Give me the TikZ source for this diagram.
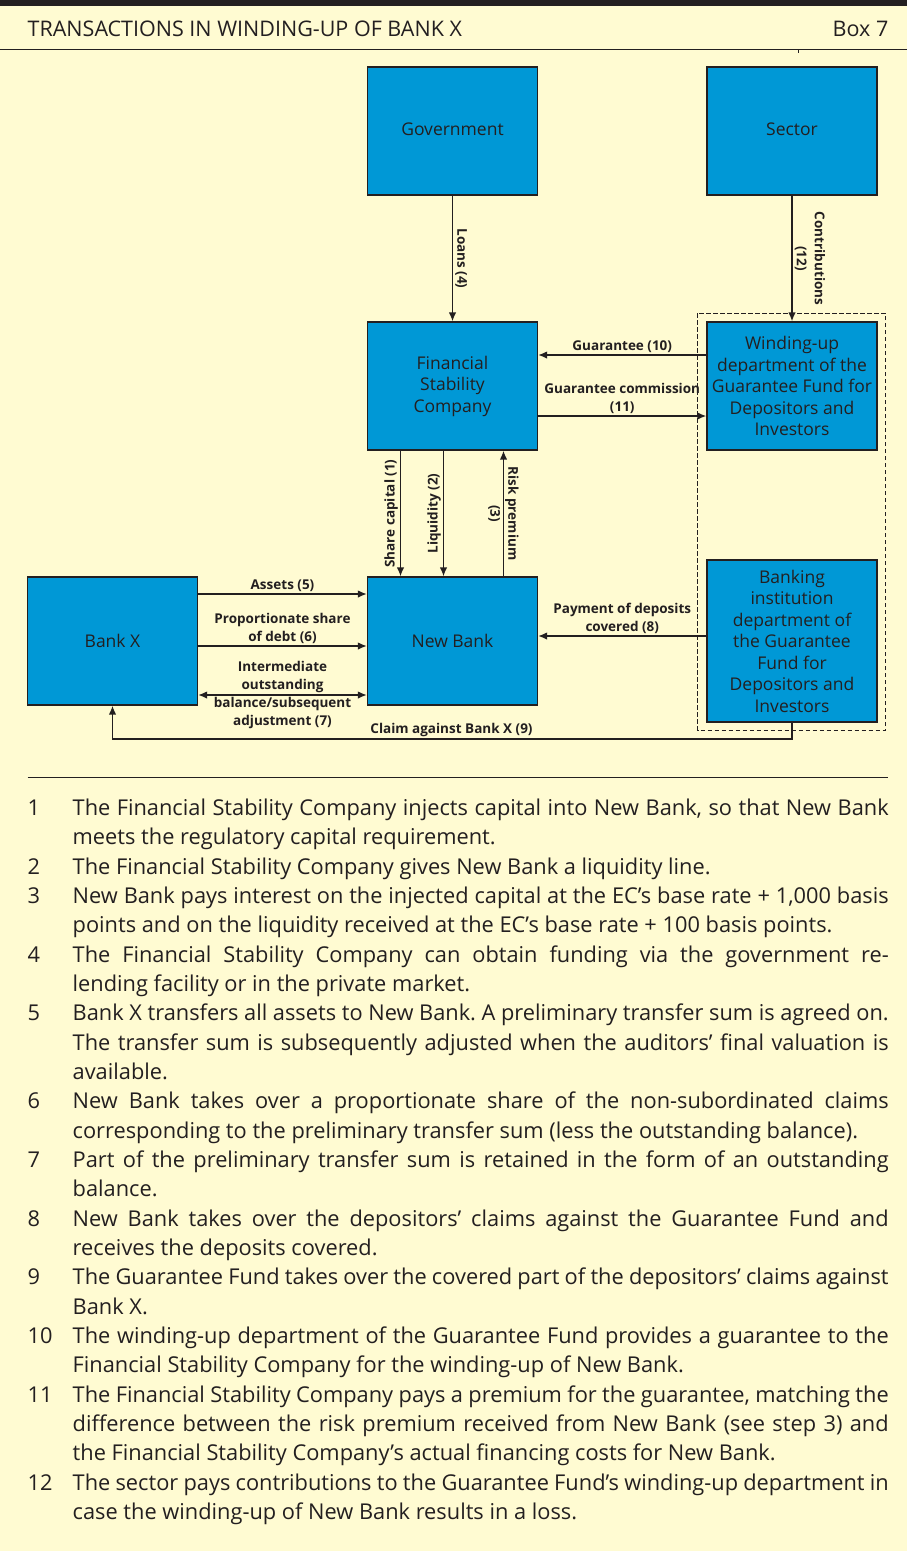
\documentclass[tikz,border=0pt]{standalone}
\usepackage{fontspec}
\setmainfont{Open Sans}
\usepackage{tikz}
\usetikzlibrary{arrows.meta}

\definecolor{paper}{HTML}{FFFBD2}
\definecolor{fundblue}{HTML}{0098D6}
\definecolor{ink}{HTML}{231F20}

\newcommand{\noteitem}[1]{\par\noindent\hangindent=45pt\hangafter=1\makebox[45pt][l]{\strut#1}}

\begin{document}
\begin{tikzpicture}[x=1pt, y=-1pt,
    party/.style={rectangle, draw=ink, line width=1.3pt, fill=fundblue, text=ink, align=center, minimum width=170pt, minimum height=128pt, inner sep=0pt, font=\fontsize{17.5}{21.5}\selectfont},
    flow/.style={text=ink, align=center, inner sep=2pt, font=\bfseries\fontsize{13.5}{18}\selectfont},
    arrow/.style={->,>={Latex[length=9pt,width=7.5pt]},line width=1.5pt,draw=ink}
]
    % page and header
    \fill[paper] (0,0) rectangle (906,1551);
    \fill[ink] (0,0) rectangle (906,6);
    \node[anchor=base west, inner sep=0pt, text=ink, font=\fontsize{21.5}{24}\selectfont] (title) at (27,36) {TRANSACTIONS IN WINDING-UP OF BANK X};
    \node[anchor=base east, inner sep=0pt, text=ink, font=\fontsize{21.5}{24}\selectfont] (boxno) at (888,36) {Box 7};
    \draw[ink, line width=1pt] (0,49) -- (906,49);
    \draw[ink, line width=0.6pt] (798,49) -- (798,53);

    % the parties
    \draw[ink, dash pattern=on 4.5pt off 2.5pt, line width=1pt] (697,313) rectangle (885,730);
    \node[party] (gov) at (452,131) {\raisebox{4pt}{Government}};
    \node[party] (sector) at (791.5,131) {\raisebox{4pt}{Sector}};
    \node[party] (fsc) at (452,386) {Financial\\Stability\\Company};
    \node[party] (windup) at (791.5,386) {Winding-up\\department of the\\Guarantee Fund for\\Depositors and\\Investors};
    \node[party] (bankx) at (112,641) {Bank X};
    \node[party] (newbank) at (452,641) {New Bank};
    \node[party, minimum height=162pt] (bankdept) at (791.5,641) {Banking\\institution\\department of\\the Guarantee\\Fund for\\Depositors and\\Investors};
    \coordinate (claim) at (451,739);

    % flows
    \draw[arrow] (gov) -- node[flow, rotate=-90, anchor=south] {Loans (4)} (fsc);
    \draw[arrow] (sector) -- node[flow, rotate=-90, anchor=south] {Contributions\\(12)} (windup);
    \draw[arrow] ([yshift=31pt]windup.west) -- node[flow, above] {Guarantee (10)} ([yshift=31pt]fsc.east);
    \draw[arrow] ([yshift=-30pt]fsc.east) -- node[flow, above] {Guarantee commission\\(11)} ([yshift=-30pt]windup.west);
    \draw[arrow] ([xshift=-52pt]fsc.south) -- node[flow, rotate=90, anchor=south] {Share capital (1)} ([xshift=-52pt]newbank.north);
    \draw[arrow] ([xshift=-9pt]fsc.south) -- node[flow, rotate=90, anchor=south] {Liquidity (2)} ([xshift=-9pt]newbank.north);
    \draw[arrow] ([xshift=51pt]newbank.north) -- node[flow, rotate=-90] {Risk premium\\(3)} ([xshift=51pt]fsc.south);
    \draw[arrow] ([yshift=47pt]bankx.east) -- node[flow, above] {Assets (5)} ([yshift=47pt]newbank.west);
    \draw[arrow] ([yshift=-5pt]bankx.east) -- node[flow, above] {Proportionate share\\of debt (6)} ([yshift=-5pt]newbank.west);
    \draw[arrow, <->] ([yshift=-54pt]bankx.east) -- node[flow] {Intermediate\\outstanding\\balance/subsequent\\adjustment (7)} ([yshift=-54pt]newbank.west);
    \draw[arrow] ([yshift=5pt]bankdept.west) -- node[flow, above] {Payment of deposits\\covered (8)} ([yshift=5pt]newbank.east);
    \draw[arrow] (bankdept.south) |- (claim) -| (bankx.south);
    \node[flow, above] (claimtext) at (claim) {Claim against Bank X (9)};

    % notes
    \draw[ink, line width=1pt] (27,777) -- (887,777);
    \node[anchor=north west, text width=861pt, inner sep=0pt, align=justify, text=ink, font=\fontsize{21.8}{29.33}\selectfont\frenchspacing] (notes) at (27,786) {%
    \noteitem{1}The Financial Stability Company injects capital into New Bank, so that New Bank\linebreak meets the regulatory capital requirement.
    \noteitem{2}The Financial Stability Company gives New Bank a liquidity line.
    \noteitem{3}New Bank pays interest on the injected capital at the EC's base rate + 1,000 basis\linebreak points and on the liquidity received at the EC's base rate + 100 basis points.
    \noteitem{4}The Financial Stability Company can obtain funding via the government re-\linebreak lending facility or in the private market.
    \noteitem{5}Bank X transfers all assets to New Bank. A preliminary transfer sum is agreed on.\linebreak The transfer sum is subsequently adjusted when the auditors' final valuation is\linebreak available.
    \noteitem{6}New Bank takes over a proportionate share of the non-subordinated claims\linebreak corresponding to the preliminary transfer sum (less the outstanding balance).
    \noteitem{7}Part of the preliminary transfer sum is retained in the form of an outstanding\linebreak balance.
    \noteitem{8}New Bank takes over the depositors' claims against the Guarantee Fund and\linebreak receives the deposits covered.
    \noteitem{9}The Guarantee Fund takes over the covered part of the depositors' claims against\linebreak Bank X.
    \noteitem{10}The winding-up department of the Guarantee Fund provides a guarantee to the\linebreak Financial Stability Company for the winding-up of New Bank.
    \noteitem{11}The Financial Stability Company pays a premium for the guarantee, matching the\linebreak difference between the risk premium received from New Bank (see step 3) and\linebreak the Financial Stability Company's actual financing costs for New Bank.
    \noteitem{12}The sector pays contributions to the Guarantee Fund's winding-up department in\linebreak case the winding-up of New Bank results in a loss.\par};
\end{tikzpicture}
\end{document}
